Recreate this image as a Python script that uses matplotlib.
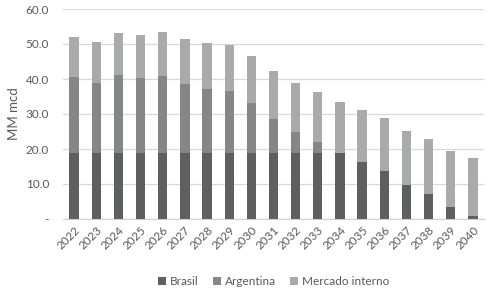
import matplotlib.pyplot as plt
import numpy as np
from matplotlib.ticker import FuncFormatter

plt.rcParams['font.family'] = ['Lato', 'DejaVu Sans']

years = [str(y) for y in range(2022, 2041)]
brasil = [19.0, 19.0, 19.0, 19.0, 19.0, 19.0, 19.0, 19.0, 19.0, 19.0,
          19.0, 19.0, 19.0, 16.3, 13.6, 9.8, 7.1, 3.5, 1.0]
argentina = [21.5, 19.9, 22.2, 21.2, 21.9, 19.7, 18.1, 17.5, 14.2, 9.5,
             6.0, 3.1, 0.0, 0.0, 0.0, 0.0, 0.0, 0.0, 0.0]
total = [52.0, 50.6, 53.2, 52.6, 53.5, 51.4, 50.2, 49.8, 46.7, 42.4,
         39.0, 36.4, 33.5, 31.1, 28.9, 25.2, 22.9, 19.5, 17.5]
mercado = [t - b - a for t, b, a in zip(total, brasil, argentina)]

c_bra = '#5e5f5f'
c_arg = '#858686'
c_mer = '#a9abab'
txt = '#595959'

fig = plt.figure(figsize=(4.97, 2.88), dpi=100)
ax = fig.add_axes([63 / 497, 69 / 288, 421 / 497, 210 / 288])

x = np.arange(len(years))
w = 0.42
ax.bar(x, brasil, w, color=c_bra, label='Brasil', zorder=3)
ax.bar(x, argentina, w, bottom=brasil, color=c_arg, label='Argentina', zorder=3)
bot = [b + a for b, a in zip(brasil, argentina)]
ax.bar(x, mercado, w, bottom=bot, color=c_mer, label='Mercado interno', zorder=3)

ax.set_xlim(-0.5, len(years) - 0.5)
ax.set_ylim(0, 60)
ax.set_yticks(np.arange(0, 61, 10))
ax.yaxis.set_major_formatter(FuncFormatter(lambda v, p: '-' if v == 0 else '%.1f' % v))
ax.grid(axis='y', color='#d9d9d9', linewidth=0.9, zorder=0)
for s in ['top', 'right', 'left']:
    ax.spines[s].set_visible(False)
ax.spines['bottom'].set_color('#d0d0d0')
ax.tick_params(axis='both', length=0, colors=txt, labelsize=8.5)
ax.tick_params(axis='y', pad=10)
ax.tick_params(axis='x', pad=4)
ax.set_xticks(x)
ax.set_xticklabels(years, rotation=45, ha='right', rotation_mode='anchor')
ax.set_ylabel('MM mcd', color=txt, fontsize=9.5, labelpad=4)

ax.legend(loc='upper center', bbox_to_anchor=(0.5, -0.22), ncol=3, frameon=False,
          fontsize=8.5, labelcolor=txt, handlelength=0.7, handleheight=0.7,
          handletextpad=0.3, columnspacing=1.2)

fig.savefig('out.png', dpi=100)
